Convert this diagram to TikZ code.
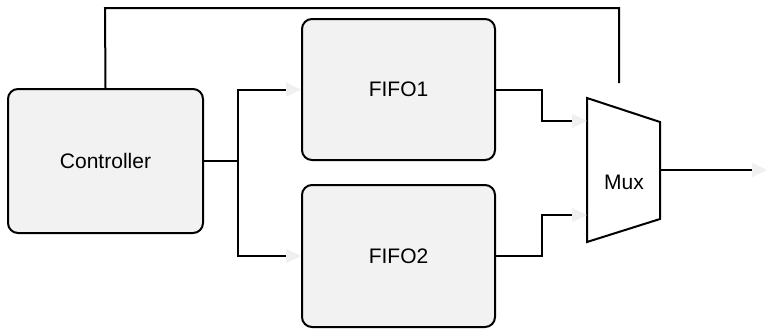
\documentclass[tikz,border=0pt]{standalone}
\usepackage{fontspec}
\setmainfont{Liberation Sans}
\usetikzlibrary{arrows.meta}
\definecolor{boxfill}{HTML}{F2F2F2}
\definecolor{tipfill}{HTML}{F0F0F0}
\begin{document}
\begin{tikzpicture}[x=1pt,y=-1pt,
  block/.style={draw=black,line width=2pt,fill=boxfill,rounded corners=10pt,
    minimum width=193pt,inner sep=0pt,font=\fontsize{21}{25}\selectfont},
  wire/.style={draw=black,line width=2pt},
  feed/.style={wire,-{Triangle[length=15pt,width=14pt,color=tipfill]}},
  lbl/.style={inner sep=0pt,font=\fontsize{21}{25}\selectfont}]
\useasboundingbox (0,0) rectangle (767,332);
% blocks
\node[block,minimum width=195pt,minimum height=144pt] (ctrl) at (105.5,161) {Controller};
\node[block,minimum height=141pt] (fifo1) at (398.5,89.5) {FIFO1};
\node[block,minimum height=142pt] (fifo2) at (398.5,256) {FIFO2};
% multiplexer
\coordinate (mtl) at (587,98);
\coordinate (mbl) at (587,242);
\coordinate (mtr) at (660,122);
\coordinate (mbr) at (660,219);
\draw[line width=2pt,line join=miter,fill=white] (mtl) -- (mtr) -- (mbr) -- (mbl) -- cycle;
\node[lbl] (mux) at (624,182) {Mux};
\coordinate (muxin1) at (587,121);
\coordinate (muxin2) at (587,215);
\coordinate (muxout) at (660,170);
\coordinate (out) at (767,170);
\coordinate (sel) at (619,83);
% connectors
\coordinate (split) at (238,161);
\draw[wire] (ctrl.east) -- (split);
\draw[feed] (split) |- (fifo1.west);
\draw[feed] (split) |- (fifo2.west);
\draw[feed] (fifo1.east) -- ++(46,0) |- (muxin1);
\draw[feed] (fifo2.east) -- ++(46,0) |- (muxin2);
\draw[feed] (muxout) -- (out);
\draw[wire] (ctrl.north) -- (105,8) -| (sel);
\end{tikzpicture}
\end{document}
